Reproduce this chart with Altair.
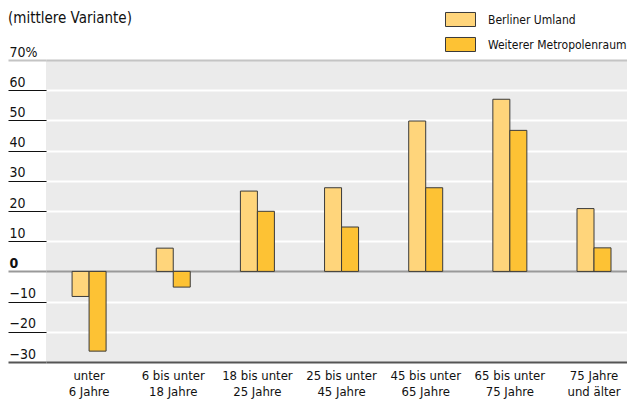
import altair as alt
import pandas as pd

categories = ["unter|6 Jahre", "6 bis unter|18 Jahre", "18 bis unter|25 Jahre",
              "25 bis unter|45 Jahre", "45 bis unter|65 Jahre", "65 bis unter|75 Jahre",
              "75 Jahre|und älter"]
series = ["Berliner Umland", "Weiterer Metropolenraum"]
berliner_umland = [-8.3, 7.7, 26.6, 27.7, 49.8, 57.0, 20.8]
weiterer_metropolenraum = [-26.4, -5.2, 19.9, 14.7, 27.7, 46.7, 7.8]
y_ticks = [-30, -20, -10, 0, 10, 20, 30, 40, 50, 60, 70]
title_text = "(mittlere Variante)"

rows = []
for c, a, b in zip(categories, berliner_umland, weiterer_metropolenraum):
    rows.append({"cat": c, "series": series[0], "value": a})
    rows.append({"cat": c, "series": series[1], "value": b})
df = pd.DataFrame(rows)

FONT = "DejaVu Sans Condensed, Liberation Sans Narrow, Roboto, sans-serif"
LIGHT = "#FFD57B"
DARK = "#FDC234"

bars = alt.Chart(df).mark_bar(stroke="#3a3a3a", strokeWidth=1).encode(
    x=alt.X("cat:N", sort=categories, title=None,
            scale=alt.Scale(paddingInner=0.596, paddingOuter=0.25, align=0.62),
            axis=alt.Axis(domain=False, ticks=False, labelAngle=0, labelPadding=7,
                          labelExpr="split(datum.label, '|')", labelLineHeight=16,
                          labelFontSize=13, labelColor="#111", labelFont=FONT,
                          labelBaseline="top", labelLimit=0)),
    xOffset=alt.XOffset("series:N", sort=series),
    y=alt.Y("value:Q", title=None,
            scale=alt.Scale(domain=[-30, 70], nice=False, zero=False),
            axis=alt.Axis(
                values=y_ticks, domain=False,
                labelExpr="datum.value == 70 ? '70%' : datum.label",
                labelAlign="left", labelBaseline="alphabetic", labelOffset=-4,
                labelPadding=-1, labelFontSize=14, labelColor="#111", labelFont=FONT,
                labelFontWeight={"condition": {"test": "datum.value == 0", "value": "bold"},
                                 "value": "normal"},
                tickSize=38,
                tickColor={"condition": [
                    {"test": "datum.value == 70", "value": "#c4c4c4"},
                    {"test": "datum.value == 0", "value": "#999999"},
                    {"test": "datum.value == -30", "value": "#555555"}],
                    "value": "#111111"},
                tickWidth={"condition": {"test": "datum.value == 70 || datum.value == 0 || datum.value == -30",
                                         "value": 2}, "value": 1},
                grid=True,
                gridColor={"condition": [
                    {"test": "datum.value == 70", "value": "#c4c4c4"},
                    {"test": "datum.value == 0", "value": "#999999"},
                    {"test": "datum.value == -30", "value": "#555555"}],
                    "value": "#ffffff"},
                gridWidth=2,
            )),
    color=alt.Color("series:N", sort=series,
                    scale=alt.Scale(domain=series, range=[LIGHT, DARK]),
                    legend=alt.Legend(title=None, orient="none", legendX=399, legendY=-56,
                                      symbolType="M-1,-0.467H1V0.467H-1Z", symbolSize=900,
                                      symbolStrokeColor="#3a3a3a", symbolStrokeWidth=1,
                                      labelOffset=12, rowPadding=-9, padding=0,
                                      labelLimit=0,
                                      labelFontSize=12, labelColor="#111", labelFont=FONT)),
)

title = alt.Chart(pd.DataFrame({"t": [title_text]})).mark_text(
    align="left", baseline="alphabetic", fontSize=15, font=FONT, color="#111"
).encode(x=alt.value(-38), y=alt.value(-37), text="t:N")

chart = alt.layer(bars, title).properties(
    width=581, height=302,
    autosize=alt.AutoSizeParams(type="none"),
    padding={"left": 38, "top": 52, "right": 0, "bottom": 40},
).configure_view(fill="#EBEBEB", stroke=None)

chart.save("out.html", embed_options={"renderer": "svg", "actions": False})
